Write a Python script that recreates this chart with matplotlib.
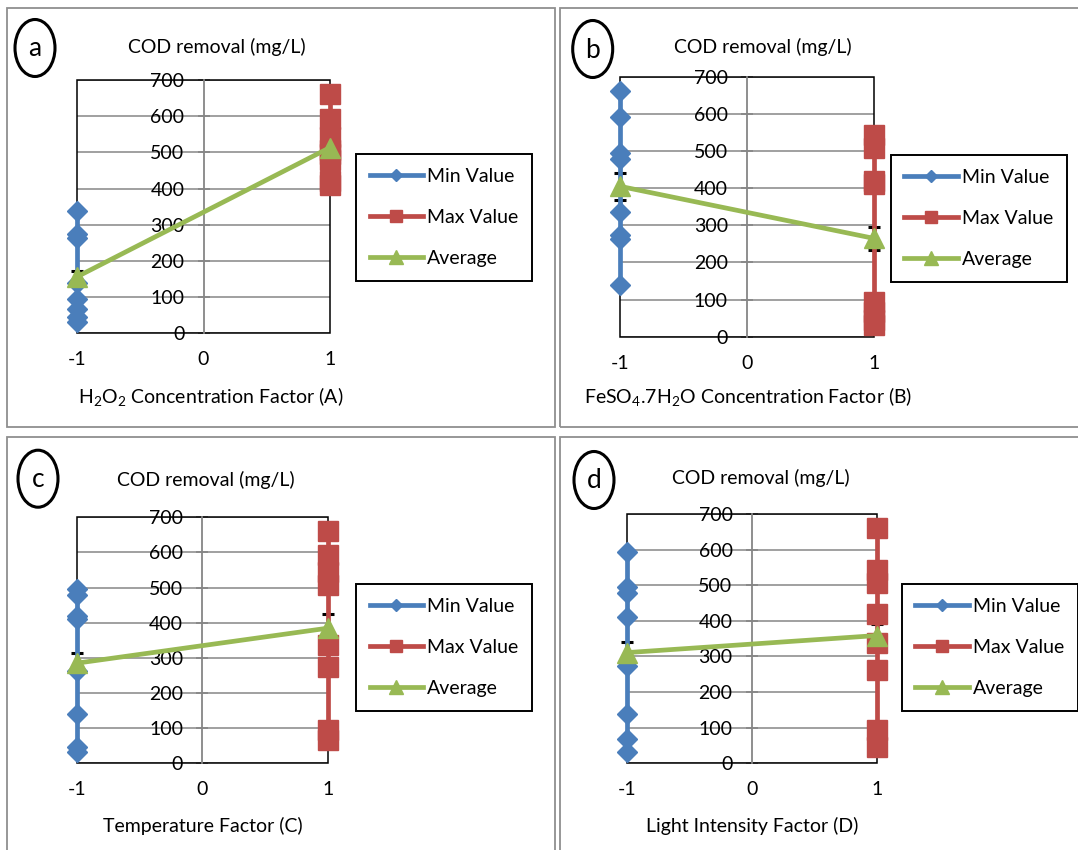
import matplotlib
matplotlib.use('Agg')
import matplotlib.pyplot as plt
from matplotlib.patches import Ellipse, Rectangle
import numpy as np

plt.rcParams['font.family'] = ['Lato', 'DejaVu Sans']
plt.rcParams['mathtext.fontset'] = 'custom'
plt.rcParams['mathtext.rm'] = 'Lato'
plt.rcParams['mathtext.it'] = 'Lato:italic'
plt.rcParams['mathtext.bf'] = 'Lato:bold'

# ---------------- data ----------------
levels = [-1, 1]
x_ticks = [-1, 0, 1]
x_tick_labels = ['-1', '0', '1']
y_ticks = [0, 100, 200, 300, 400, 500, 600, 700]
y_label = 'COD removal (mg/L)'
series_names = ['Min Value', 'Max Value', 'Average']
panel_letters = ['a', 'b', 'c', 'd']
factor_labels = [
    r'$\mathregular{H_2O_2}$ Concentration Factor (A)',
    r'$\mathregular{FeSO_4.7H_2O}$ Concentration Factor (B)',
    'Temperature Factor (C)',
    'Light Intensity Factor (D)',
]

min_a = [337, 274, 262, 139, 94, 67, 45, 31]
max_a = [662, 592, 543, 507, 495, 478, 420, 410]
min_b = [662, 592, 495, 478, 337, 274, 262, 139]
max_b = [543, 507, 420, 410, 94, 67, 45, 31]
min_c = [495, 478, 420, 410, 262, 139, 45, 31]
max_c = [662, 592, 543, 507, 337, 274, 94, 67]
min_d = [592, 495, 478, 410, 274, 139, 67, 31]
max_d = [662, 543, 507, 420, 337, 262, 94, 45]

err_a = [17, 30]
err_b = [37, 30]
err_c = [30, 40]
err_d = [29, 31]

mins = [min_a, min_b, min_c, min_d]
maxs = [max_a, max_b, max_c, max_d]
errs = [err_a, err_b, err_c, err_d]

# ---------------- layout (pixels) ----------------
W, H = 1078, 850
BLUE, RED, GREEN = '#4A7EBB', '#BE4B48', '#98B954'
GRID = '#868686'

axes_px = [(77, 80, 330, 333.3), (620, 76.7, 874, 336.7),
           (77, 517.3, 327.7, 763.3), (626.7, 514, 876.7, 763.3)]
title_px = [(217, 47), (763, 47), (205.5, 480), (760.5, 478)]
xlabel_px = [(210.5, 397), (748, 397), (202.5, 826), (751.7, 826)]
circle_px = [(35, 48), (592.7, 49), (38, 478.7), (594, 480)]
legend_px = [(356, 154), (890.7, 155), (356, 584), (901.7, 584)]
border_px = [(7, 8, 555, 427), (560, 8, 1085, 427),
             (7, 437, 555, 860), (560, 437, 1085, 860)]

FS = 14

fig = plt.figure(figsize=(W / 100, H / 100), dpi=100)
fig.patch.set_facecolor('white')


def fx(x):
    return x / W


def fy(y):
    return 1 - y / H


for i in range(4):
    x0, y0, x1, y1 = border_px[i]
    fig.add_artist(Rectangle((fx(x0), fy(y1)), (x1 - x0) / W, (y1 - y0) / H,
                             transform=fig.transFigure, fill=False,
                             ec='#8F8F8F', lw=1.3))

    l, t, r, b = axes_px[i]
    ax = fig.add_axes([fx(l), fy(b), (r - l) / W, (b - t) / H])
    ax.set_xlim(-1, 1)
    ax.set_ylim(0, 700)
    ax.set_xticks(x_ticks)
    ax.set_xticklabels(x_tick_labels)
    ax.set_yticks(y_ticks)
    ax.grid(axis='y', color=GRID, lw=1.1)
    ax.set_axisbelow(True)
    for s in ['top', 'right', 'bottom']:
        ax.spines[s].set_visible(False)
    ax.spines['left'].set_position(('data', 0))
    ax.spines['left'].set_color(GRID)
    ax.spines['left'].set_linewidth(1.3)
    ax.add_patch(Rectangle((0, 0), 1, 1, transform=ax.transAxes, fill=False,
                           ec='black', lw=1.1, clip_on=False, zorder=1))
    ax.tick_params(axis='y', direction='inout', length=8.6, width=1.2,
                   color=GRID, pad=9.5, labelsize=FS)
    ax.tick_params(axis='x', length=0, pad=13, labelsize=FS)

    avg = [np.mean(mins[i]), np.mean(maxs[i])]
    ax.errorbar(levels, avg, yerr=errs[i], fmt='none', ecolor='black',
                elinewidth=1, capsize=4.3, capthick=2.2, zorder=2, clip_on=False)
    h1, = ax.plot([levels[0]] * len(mins[i]), mins[i], color=BLUE, lw=3.4,
                  marker='D', ms=10, zorder=3, clip_on=False)
    h2, = ax.plot([levels[1]] * len(maxs[i]), maxs[i], color=RED, lw=3.4,
                  marker='s', ms=13.8, zorder=3, clip_on=False)
    h3, = ax.plot(levels, avg, color=GREEN, lw=3.4, marker='^', ms=15,
                  zorder=4, clip_on=False)

    lx, ly = legend_px[i]
    leg = ax.legend([h1, h2, h3], series_names, loc='upper left',
                    bbox_to_anchor=(fx(lx), fy(ly)), bbox_transform=fig.transFigure,
                    frameon=True, fancybox=False, edgecolor='black', framealpha=1,
                    borderpad=0.7, labelspacing=1.25, handlelength=2.75,
                    handletextpad=0.2, markerscale=0.65, fontsize=FS,
                    borderaxespad=0)
    leg.get_frame().set_linewidth(1.4)

    tx, ty = title_px[i]
    fig.text(fx(tx), fy(ty), y_label, ha='center', va='center', fontsize=FS)
    xx, xy = xlabel_px[i]
    fig.text(fx(xx), fy(xy), factor_labels[i], ha='center', va='center', fontsize=FS)
    cx, cy = circle_px[i]
    fig.add_artist(Ellipse((fx(cx), fy(cy)), 40 / W, 57 / H,
                           transform=fig.transFigure, fill=False, ec='black', lw=2.2))
    fig.text(fx(cx), fy(cy + 1), panel_letters[i], ha='center', va='center', fontsize=19)

fig.savefig('out.png', dpi=100)
